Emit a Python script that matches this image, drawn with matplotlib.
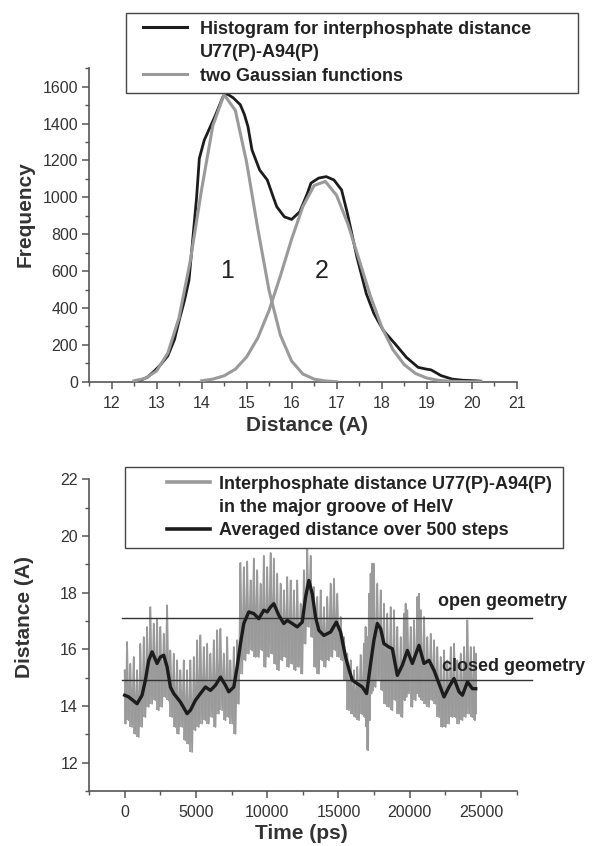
import numpy as np
import matplotlib
matplotlib.use('Agg')
import matplotlib.pyplot as plt
from matplotlib.lines import Line2D
from matplotlib.legend_handler import HandlerLine2D
from matplotlib.ticker import MultipleLocator

plt.rcParams['font.family'] = ['Liberation Sans', 'DejaVu Sans']

DARK = '#1c1c1c'
GREY = '#9a9a9a'
AXIS = '#555555'
TEXT = '#333333'

# ── top panel: histogram of the U77(P)-A94(P) distance ──────────────────────
hist_x = [12.6, 12.8, 12.96, 13.1, 13.25, 13.4, 13.5, 13.62, 13.72, 13.8,
          13.89, 13.95, 14.06, 14.18, 14.3, 14.48, 14.57, 14.7, 14.86, 14.95,
          15.03, 15.12, 15.29, 15.46, 15.59, 15.67, 15.84, 16.0, 16.18, 16.35,
          16.43, 16.6, 16.77, 16.94, 17.11, 17.24, 17.45, 17.66, 17.83, 18.04,
          18.3, 18.55, 18.81, 18.98, 19.1, 19.32, 19.57, 19.8, 20.08, 20.2]
hist_y = [3, 25, 60, 95, 140, 230, 330, 440, 550, 760,
          1000, 1210, 1310, 1375, 1440, 1547, 1560, 1540, 1502, 1450,
          1384, 1257, 1148, 1094, 1003, 949, 894, 880, 921, 1021,
          1077, 1104, 1112, 1094, 1040, 912, 677, 477, 369, 277,
          205, 132, 78, 69, 64, 33, 14, 8, 5, 3]

# the two fitted gaussians
g1_x = [12.5, 12.75, 13.0, 13.25, 13.5, 13.75, 14.0, 14.25, 14.5, 14.75,
        15.0, 15.25, 15.5, 15.75, 16.0, 16.25, 16.5, 16.75, 17.0]
g1_y = [5, 18, 58, 155, 347, 656, 1041, 1388, 1557, 1471,
        1191, 828, 494, 253, 112, 42, 14, 4, 0]
g2_x = [14.0, 14.25, 14.5, 14.75, 15.0, 15.25, 15.5, 15.75, 16.0, 16.25,
        16.5, 16.75, 17.0, 17.25, 17.5, 17.75, 18.0, 18.25, 18.5, 18.75,
        19.0, 19.25, 19.5, 19.75, 20.0, 20.2]
g2_y = [5, 14, 32, 68, 134, 238, 387, 573, 773, 950,
        1064, 1086, 1010, 856, 661, 465, 298, 174, 93, 45,
        20, 8, 3, 1, 0, 0]

# ── bottom panel: distance vs time ──────────────────────────────────────────
avg_t = [0, 281, 632, 870, 1221, 1455, 1689, 1923, 2274, 2507,
         2738, 2977, 3209, 3441, 3911, 4381, 4613, 4964, 5315, 5667,
         6018, 6369, 6720, 7071, 7303, 7654, 7893, 8124, 8356, 8707,
         9058, 9409, 9760, 9999, 10231, 10462, 10813, 11165, 11404, 11755,
         12106, 12457, 12689, 12921, 13160, 13391, 13623, 13974, 14444, 14850,
         15146, 15498, 15729, 15968, 16319, 16670, 16972, 17253, 17485, 17724,
         17955, 18187, 18538, 18777, 19128, 19479, 19830, 20181, 20645, 20996,
         21347, 21699, 22050, 22401, 22752, 23103, 23455, 23694, 24045, 24396,
         24627]
avg_d = [14.38, 14.32, 14.18, 14.08, 14.38, 14.91, 15.61, 15.91, 15.50, 15.73,
         15.79, 15.38, 14.67, 14.44, 14.14, 13.73, 13.85, 14.20, 14.44, 14.67,
         14.55, 14.73, 15.02, 14.73, 14.50, 14.67, 15.38, 16.20, 16.91, 17.32,
         17.26, 17.08, 17.38, 17.32, 17.49, 17.61, 17.20, 16.91, 17.02, 16.91,
         16.79, 16.96, 17.84, 18.43, 17.96, 17.14, 16.67, 16.49, 16.61, 16.96,
         16.61, 15.73, 15.30, 14.91, 14.79, 14.67, 14.44, 15.50, 16.32, 16.91,
         16.73, 16.20, 16.08, 16.02, 15.08, 15.44, 15.96, 15.50, 16.14, 15.50,
         15.61, 15.26, 14.79, 14.32, 14.67, 14.97, 14.50, 14.38, 14.85, 14.61,
         14.61]

# raw trace: upper / lower swing of the noise at each read-off time
gray_t = [0, 167, 401, 635, 869, 1103, 1337, 1571, 1806, 2040,
          2274, 2508, 2742, 2976, 3210, 3444, 3678, 3912, 4147, 4381,
          4615, 4849, 5083, 5317, 5551, 5785, 6019, 6253, 6488, 6722,
          6956, 7190, 7424, 7658, 7892, 8126, 8360, 8594, 8829, 9063,
          9297, 9531, 9765, 9999, 10233, 10467, 10701, 10935, 11170, 11404,
          11638, 11872, 12106, 12340, 12574, 12808, 13042, 13276, 13511, 13745,
          13979, 14213, 14447, 14681, 14915, 15149, 15383, 15617, 15852, 16086,
          16320, 16554, 16785, 16902, 17019, 17136, 17253, 17370, 17487, 17721,
          17956, 18190, 18424, 18658, 18892, 19126, 19360, 19594, 19711, 19828,
          20062, 20297, 20531, 20648, 20765, 20999, 21233, 21467, 21701, 21935,
          22169, 22403, 22638, 22872, 23106, 23340, 23574, 23808, 24042, 24276,
          24510, 24627]
gray_hi = [15.26, 16.26, 15.49, 15.73, 15.26, 16.20, 16.43, 16.79, 17.49, 16.91,
           17.08, 16.79, 16.55, 17.55, 15.96, 15.85, 15.61, 15.26, 15.61, 15.26,
           15.61, 15.73, 16.32, 16.49, 16.08, 16.20, 15.85, 16.32, 16.67, 16.73,
           15.85, 16.43, 15.61, 16.08, 16.32, 19.05, 18.90, 19.10, 18.43, 19.20,
           18.79, 18.32, 19.30, 18.90, 19.40, 19.20, 18.67, 18.32, 18.08, 18.55,
           18.43, 18.08, 18.43, 17.61, 18.79, 19.60, 19.30, 18.20, 17.85, 18.08,
           17.49, 17.85, 18.32, 18.49, 17.96, 17.14, 16.43, 15.85, 15.61, 15.26,
           15.38, 15.80, 16.20, 16.79, 16.43, 17.96, 18.67, 19.02, 19.02, 18.32,
           18.08, 17.61, 17.26, 17.49, 17.38, 16.79, 16.43, 17.26, 17.61, 17.38,
           16.79, 17.02, 17.85, 17.96, 17.38, 17.14, 16.43, 16.55, 16.32, 16.08,
           15.73, 15.96, 15.61, 16.08, 16.20, 15.61, 15.85, 16.08, 17.02, 16.08,
           16.08, 15.85]
gray_lo = [13.38, 13.50, 13.26, 13.02, 12.91, 13.26, 13.61, 13.97, 14.08, 14.20,
           13.85, 13.97, 14.32, 14.20, 13.61, 13.26, 13.02, 13.26, 12.79, 12.67,
           12.38, 13.14, 13.26, 13.38, 13.50, 13.38, 13.61, 13.26, 13.73, 13.85,
           13.50, 13.61, 13.38, 13.02, 14.08, 15.14, 15.61, 15.85, 15.96, 15.73,
           15.73, 15.96, 15.38, 15.73, 15.85, 15.49, 15.26, 15.61, 15.73, 15.38,
           15.49, 15.26, 15.38, 15.14, 16.20, 16.79, 16.43, 15.38, 15.14, 15.61,
           15.38, 15.61, 15.73, 15.96, 15.73, 15.61, 14.91, 13.85, 13.73, 13.61,
           13.50, 13.70, 13.61, 13.26, 12.44, 13.50, 14.44, 14.55, 14.67, 14.91,
           14.55, 14.08, 13.97, 13.85, 14.20, 13.73, 13.61, 14.20, 14.32, 14.44,
           13.97, 14.20, 14.44, 14.32, 14.20, 14.08, 13.97, 14.20, 14.08, 13.61,
           13.26, 13.26, 13.38, 13.61, 13.61, 13.38, 13.50, 13.61, 13.73, 13.61,
           13.50, 13.73]

OPEN_LEVEL = 17.1
CLOSED_LEVEL = 14.9


class ShiftedLine(HandlerLine2D):
    """Origin-style legend line: starts a bit in from the left of the handle box."""
    def __init__(self, shift, **kw):
        super().__init__(**kw)
        self.shift = shift

    def create_artists(self, legend, orig_handle, xdescent, ydescent,
                       width, height, fontsize, trans):
        s = self.shift * fontsize
        return super().create_artists(legend, orig_handle, xdescent - s, ydescent,
                                      width - s, height, fontsize, trans)


def style_axes(ax):
    for side in ('top', 'right'):
        ax.spines[side].set_visible(False)
    for side in ('left', 'bottom'):
        ax.spines[side].set_color(AXIS)
        ax.spines[side].set_linewidth(1.2)
    ax.tick_params(which='both', direction='out', colors=AXIS, labelcolor=TEXT)
    ax.tick_params(which='major', length=5, width=1.1, labelsize=11.5)
    ax.tick_params(which='minor', length=3, width=1.0)
    ax.tick_params(axis='x', pad=5)
    ax.tick_params(axis='y', pad=3)


fig = plt.figure(figsize=(5.95, 8.46), dpi=100)
ax1 = fig.add_axes([0.1496, 0.5488, 0.7188, 0.3706])
ax2 = fig.add_axes([0.1496, 0.0650, 0.7188, 0.3685])

# ── top ──────────────────────────────────────────────────────────────────────
ax1.plot(hist_x, hist_y, color=DARK, lw=2.0, zorder=2)
ax1.plot(g1_x, g1_y, color=GREY, lw=2.2, zorder=3)
ax1.plot(g2_x, g2_y, color=GREY, lw=2.2, zorder=3)
ax1.text(14.57, 600, '1', fontsize=18, ha='center', va='center', color='#222222')
ax1.text(16.67, 600, '2', fontsize=18, ha='center', va='center', color='#222222')

ax1.set_xlim(11.5, 21)
ax1.set_ylim(0, 1700)
ax1.xaxis.set_major_locator(MultipleLocator(1))
ax1.xaxis.set_minor_locator(MultipleLocator(0.5))
ax1.yaxis.set_major_locator(MultipleLocator(200))
ax1.yaxis.set_minor_locator(MultipleLocator(100))
style_axes(ax1)
ax1.set_xlabel('Distance (A)', fontsize=15, fontweight='bold', color=TEXT)
ax1.set_ylabel('Frequency', fontsize=15, fontweight='bold', color=TEXT)
ax1.xaxis.set_label_coords(0.51, -0.11)
ax1.yaxis.set_label_coords(-0.128, 0.535)

h_top = [Line2D([], [], color=DARK, lw=2.2),
         Line2D([], [], color='none'),
         Line2D([], [], color=GREY, lw=2.2)]
leg1 = fig.legend(h_top,
                  ['Histogram for interphosphate distance', 'U77(P)-A94(P)',
                   'two Gaussian functions'],
                  loc='upper left', bbox_to_anchor=(0.2118, 0.80, 0.76, 0.185),
                  mode='expand', borderaxespad=0, fancybox=False,
                  edgecolor='#444444', framealpha=1,
                  prop=dict(weight='bold', size=13),
                  handlelength=2.9, handletextpad=0.74, labelspacing=0.36,
                  borderpad=0.45,
                  handler_map={h: ShiftedLine(0.5) for h in h_top})
leg1.get_frame().set_linewidth(1.0)
for t in leg1.get_texts():
    t.set_color('#222222')

# ── bottom ───────────────────────────────────────────────────────────────────
# the raw trace is far too dense to read point by point: draw each read-off
# swing as a stroke and zig-zag between the tops and bottoms
t = np.asarray(gray_t, dtype=float)
mid = np.append((t[:-1] + t[1:]) / 2, t[-1])
zz_t = np.column_stack([t, mid]).ravel()
zz_d = np.column_stack([gray_hi, gray_lo]).ravel()
ax2.vlines(gray_t, gray_lo, gray_hi, color=GREY, lw=1.3, zorder=1)
ax2.plot(zz_t, zz_d, color=GREY, lw=1.3, zorder=1)

for level in (OPEN_LEVEL, CLOSED_LEVEL):
    ax2.plot([-180, 28600], [level, level], color='#333333', lw=1.0,
             zorder=2, clip_on=False)
ax2.plot(avg_t, avg_d, color=DARK, lw=2.4, zorder=3)

ax2.text(21980, 17.70, 'open geometry', fontsize=13, fontweight='bold',
         va='center', ha='left', color='#222222')
ax2.text(22290, 15.38, 'closed geometry', fontsize=13, fontweight='bold',
         va='center', ha='left', color='#222222')

ax2.set_xlim(-2500, 27500)
ax2.set_ylim(11, 22)
ax2.xaxis.set_major_locator(MultipleLocator(5000))
ax2.xaxis.set_minor_locator(MultipleLocator(2500))
ax2.yaxis.set_major_locator(MultipleLocator(2))
ax2.yaxis.set_minor_locator(MultipleLocator(1))
style_axes(ax2)
ax2.set_xlabel('Time (ps)', fontsize=15, fontweight='bold', color=TEXT)
ax2.set_ylabel('Distance (A)', fontsize=15, fontweight='bold', color=TEXT)
ax2.xaxis.set_label_coords(0.497, -0.105)
ax2.yaxis.set_label_coords(-0.128, 0.558)

h_bot = [Line2D([], [], color=GREY, lw=2.6),
         Line2D([], [], color='none'),
         Line2D([], [], color=DARK, lw=2.6)]
leg2 = fig.legend(h_bot,
                  ['Interphosphate distance U77(P)-A94(P)',
                   'in the major groove of HelV',
                   'Averaged distance over 500 steps'],
                  loc='upper left', bbox_to_anchor=(0.210, 0.30, 0.737, 0.1483),
                  mode='expand', borderaxespad=0, fancybox=False,
                  edgecolor='#444444', framealpha=1,
                  prop=dict(weight='bold', size=13),
                  handlelength=4.2, handletextpad=0.52, labelspacing=0.35,
                  borderpad=0.5,
                  handler_map={h: ShiftedLine(1.81) for h in h_bot})
leg2.get_frame().set_linewidth(1.0)
for t in leg2.get_texts():
    t.set_color('#222222')

fig.savefig('out.png', dpi=100)
